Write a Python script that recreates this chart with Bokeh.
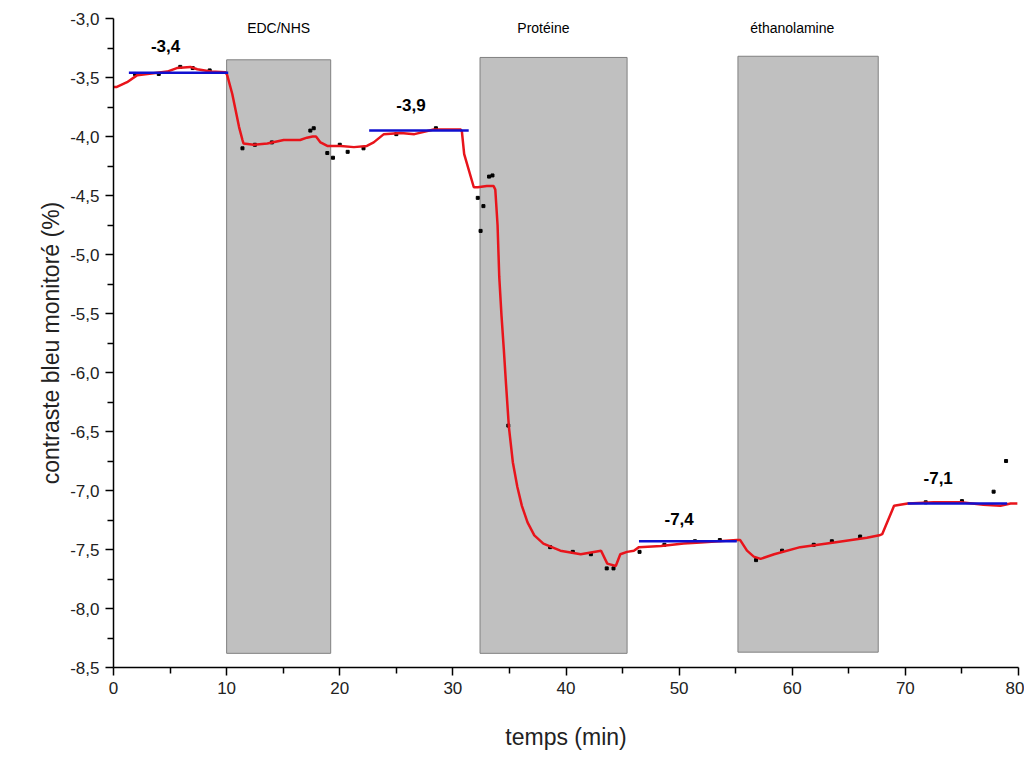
from bokeh.plotting import figure
from bokeh.models import Range1d, CustomJSTickFormatter, FixedTicker
from bokeh.core.properties import value
from bokeh.embed import file_html
from bokeh.resources import INLINE

# Injection steps (grey bands)
step_names = ["EDC/NHS", "Protéine", "éthanolamine"]
step_start = [10.0, 32.4, 55.2]
step_end = [19.2, 45.4, 67.6]
step_top = [-3.35, -3.33, -3.32]
step_bottom = [-8.38, -8.38, -8.37]
step_label_x = [14.6, 38.0, 60.0]

# Red smoothed signal
t = [0.0, 0.3, 1.2, 2.1, 3.0, 4.75, 5.6, 6.8, 7.4, 8.6, 9.9, 10.05, 10.5, 10.8, 11.1, 11.4, 11.5,
     12.4, 13.6, 15.05, 16.5, 17.1, 17.6, 17.9, 18.3, 18.9, 20.1, 21.25, 22.4, 23.0, 23.9, 25.4,
     26.6, 28.3, 30.7, 30.8, 31.0, 31.85, 32.2, 33.0, 33.6, 33.75, 33.95, 34.1, 34.3, 34.5, 34.7,
     34.95, 35.3, 35.7, 36.1, 36.6, 37.2, 38.0, 39.5, 41.3, 43.1, 43.65, 44.4, 44.8, 45.4, 46.0,
     46.45, 48.4, 50.4, 51.9, 55.1, 55.4, 56.0, 56.6, 57.2, 58.4, 60.7, 63.7, 66.6, 67.7, 67.95,
     69.0, 70.2, 72.5, 74.9, 76.9, 78.4, 79.3, 79.9]
signal = [-3.58, -3.58, -3.54, -3.48, -3.47, -3.45, -3.42, -3.41, -3.43, -3.45, -3.455, -3.48,
          -3.64, -3.78, -3.92, -4.03, -4.06, -4.07, -4.06, -4.03, -4.03, -4.01, -4.0, -4.0, -4.05,
          -4.08, -4.08, -4.09, -4.08, -4.05, -3.98, -3.97, -3.98, -3.94, -3.94, -3.96, -4.15,
          -4.43, -4.43, -4.42, -4.42, -4.45, -4.75, -5.19, -5.52, -5.80, -6.10, -6.46, -6.76,
          -6.97, -7.13, -7.27, -7.38, -7.45, -7.51, -7.54, -7.51, -7.62, -7.64, -7.54, -7.52,
          -7.51, -7.48, -7.47, -7.45, -7.44, -7.42, -7.42, -7.51, -7.56, -7.58, -7.54, -7.48,
          -7.44, -7.40, -7.38, -7.37, -7.13, -7.11, -7.10, -7.10, -7.12, -7.13, -7.11, -7.11]

# Raw measurement points (black)
raw_t = [1.9, 4.0, 5.9, 7.0, 8.5, 11.4, 12.5, 14.0, 17.4, 17.7, 18.9, 19.4, 20.7, 22.1, 20.0,
         25.0, 28.5, 32.2, 32.7, 32.45, 33.2, 33.5, 34.9, 38.6, 40.6, 42.2, 43.6, 44.2, 46.5,
         48.7, 51.4, 53.6, 56.8, 59.1, 61.9, 63.5, 66.0, 71.8, 75.0, 77.8, 78.9]
raw_v = [-3.47, -3.47, -3.41, -3.42, -3.44, -4.10, -4.07, -4.05, -3.95, -3.93, -4.14, -4.18,
         -4.13, -4.10, -4.07, -3.98, -3.93, -4.52, -4.59, -4.80, -4.34, -4.33, -6.45, -7.48,
         -7.52, -7.54, -7.66, -7.66, -7.52, -7.46, -7.43, -7.42, -7.59, -7.51, -7.46, -7.43,
         -7.39, -7.10, -7.09, -7.01, -6.75]

# Mean plateau levels (blue)
mean_start = [1.36, 22.6, 46.45, 70.2]
mean_end = [10.14, 31.4, 55.1, 79.0]
mean_level = [-3.46, -3.95, -7.43, -7.11]
mean_labels = ["-3,4", "-3,9", "-7,4", "-7,1"]
mean_label_x = [4.6, 26.3, 50.0, 72.9]
mean_label_y = [-3.23, -3.73, -7.24, -6.89]

FONT = "Liberation Sans"

p = figure(width=1024, height=757, output_backend="svg", toolbar_location=None,
           x_range=Range1d(0, 80), y_range=Range1d(-8.5, -3.0),
           min_border_left=113, min_border_right=6, min_border_top=18, min_border_bottom=90)
p.outline_line_color = None
p.xgrid.visible = False
p.ygrid.visible = False

p.quad(left=step_start, right=step_end, top=step_top, bottom=step_bottom,
       fill_color="#c0c0c0", line_color="#808080", line_width=1)
p.text(x=step_label_x, y=[-3.08] * 3, text=step_names, text_align="center",
       text_baseline="middle", text_font=value(FONT), text_font_size="14px", text_color="black")

p.scatter(x=raw_t, y=raw_v, marker="square", size=3, color="black")
p.line(x=t, y=signal, line_color="#e8141b", line_width=2.5)
p.segment(x0=mean_start, x1=mean_end, y0=mean_level, y1=mean_level, line_color="#1010d0",
          line_width=2.5)
p.text(x=mean_label_x, y=mean_label_y, text=mean_labels, text_align="center",
       text_baseline="middle", text_font=value(FONT), text_font_size="17px",
       text_font_style="bold", text_color="black")

for ax in (p.xaxis[0], p.yaxis[0]):
    ax.major_label_text_font = FONT
    ax.major_label_text_font_size = "17px"
    ax.major_label_text_color = "#222222"
    ax.axis_label_text_font = FONT
    ax.axis_label_text_font_size = "23px"
    ax.axis_label_text_font_style = "normal"
    ax.axis_label_text_color = "#222222"
    ax.major_tick_out = 8
    ax.major_tick_in = 0
    ax.minor_tick_out = 6
    ax.minor_tick_in = 0
    ax.axis_line_width = 1.5
    ax.major_tick_line_width = 1.5
    ax.minor_tick_line_width = 1.5

p.xaxis.axis_label = "temps (min)"
p.yaxis.axis_label = "contraste bleu monitoré (%)"
p.xaxis.ticker = FixedTicker(ticks=[0, 10, 20, 30, 40, 50, 60, 70, 80],
                             minor_ticks=[5, 15, 25, 35, 45, 55, 65, 75])
p.yaxis.ticker = FixedTicker(ticks=[-3.0, -3.5, -4.0, -4.5, -5.0, -5.5, -6.0, -6.5, -7.0, -7.5, -8.0, -8.5],
                             minor_ticks=[-3.25, -3.75, -4.25, -4.75, -5.25, -5.75, -6.25, -6.75,
                                          -7.25, -7.75, -8.25])
p.xaxis.formatter = CustomJSTickFormatter(code="return tick.toFixed(0);")
p.yaxis.formatter = CustomJSTickFormatter(code="return tick.toFixed(1).replace('.', ',');")
p.xaxis.major_label_standoff = 6
p.yaxis.major_label_standoff = 6
p.xaxis.axis_label_standoff = 27
p.yaxis.axis_label_standoff = 3

open("out.html", "w").write(file_html(p, INLINE))
